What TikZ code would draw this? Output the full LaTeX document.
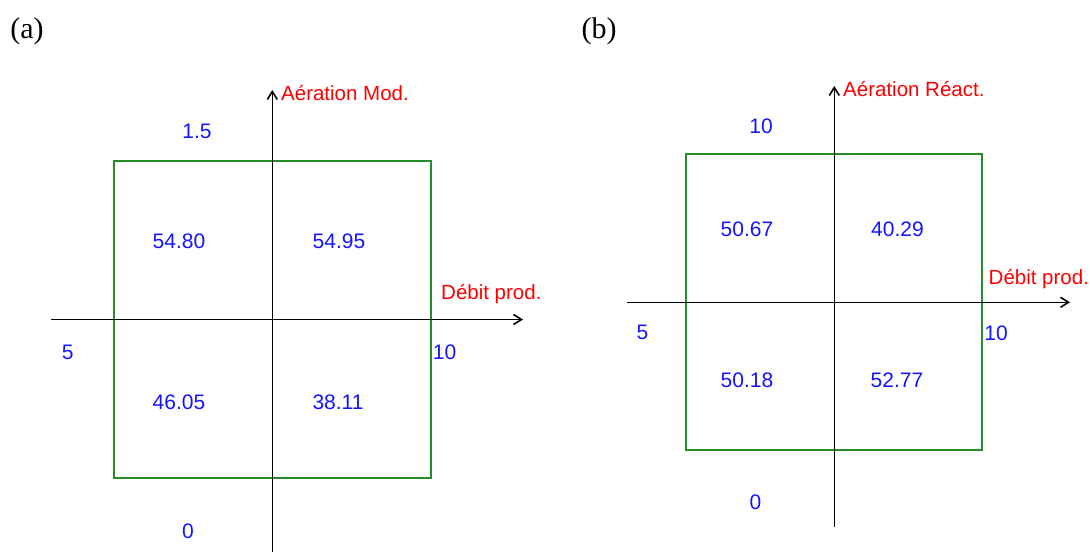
\documentclass[tikz,border=0pt]{standalone}
\usepackage{xcolor}
\usepackage{fontspec}
\setmainfont{Liberation Serif}
\newfontfamily\plotfont{Liberation Sans}
\usetikzlibrary{arrows.meta}

\definecolor{framegreen}{RGB}{40,140,40}
\definecolor{valueblue}{RGB}{20,20,255}
\definecolor{labelred}{RGB}{255,0,0}

\begin{document}
\begin{tikzpicture}[
    x=1pt, y=-1pt,
    axis/.style={line width=1.6pt, -{Straight Barb[length=8pt, width=10pt]}},
    frame/.style={draw=framegreen, line width=2pt, inner sep=0pt,
                  minimum width=317pt, minimum height=317pt},
    value/.style={text=valueblue, inner sep=0pt,
                  font=\plotfont\fontsize{21pt}{25pt}\selectfont},
    axlabel/.style={text=labelred, inner sep=0pt, anchor=base west,
                    font=\plotfont\fontsize{20.5pt}{24pt}\selectfont},
    panel/.style={inner sep=0pt, font=\fontsize{30pt}{34pt}\selectfont}
]
\useasboundingbox (0,0) rectangle (1090,552);

% Panel (a)
\node[panel] (labA) at (27,31) {(a)};
\node[frame] (boxA) at (272.5,319) {};
\coordinate (aW) at (51,319.5);
\coordinate (aE) at (523,319.5);
\coordinate (aS) at (272.3,552);
\coordinate (aN) at (272.3,90);
\draw[axis] (aW) -- (aE);
\draw[axis] (aS) -- (aN);

\node[axlabel] (aYname) at (281,100) {Aération Mod.};
\node[axlabel] (aXname) at (441,299) {Débit prod.};
\node[value] (aYmax) at (197,131) {1.5};
\node[value] (aYmin) at (188,531.5) {0};
\node[value] (aXmin) at (67.7,352) {5};
\node[value] (aXmax) at (444.5,352) {10};

\node[value] (aNW) at (179,241) {54.80};
\node[value] (aNE) at (339,241) {54.95};
\node[value] (aSW) at (179,402) {46.05};
\node[value] (aSE) at (338,402) {38.11};

% Panel (b)
\node[panel] (labB) at (599,31) {(b)};
\node[frame, minimum width=296pt, minimum height=296pt] (boxB) at (834.2,302.4) {};
\coordinate (bW) at (626.7,302.3);
\coordinate (bE) at (1070,302.3);
\coordinate (bS) at (834.3,526.7);
\coordinate (bN) at (834.3,86);
\draw[axis] (bW) -- (bE);
\draw[axis] (bS) -- (bN);

\node[axlabel] (bYname) at (843,96.5) {Aération Réact.};
\node[axlabel] (bXname) at (988.5,284.5) {Débit prod.};
\node[value] (bYmax) at (761,126) {10};
\node[value] (bYmin) at (755.5,502) {0};
\node[value] (bXmin) at (642.5,332.5) {5};
\node[value] (bXmax) at (996,333) {10};

\node[value] (bNW) at (747,229) {50.67};
\node[value] (bNE) at (897.5,229) {40.29};
\node[value] (bSW) at (747,380) {50.18};
\node[value] (bSE) at (897,380) {52.77};

\end{tikzpicture}
\end{document}
